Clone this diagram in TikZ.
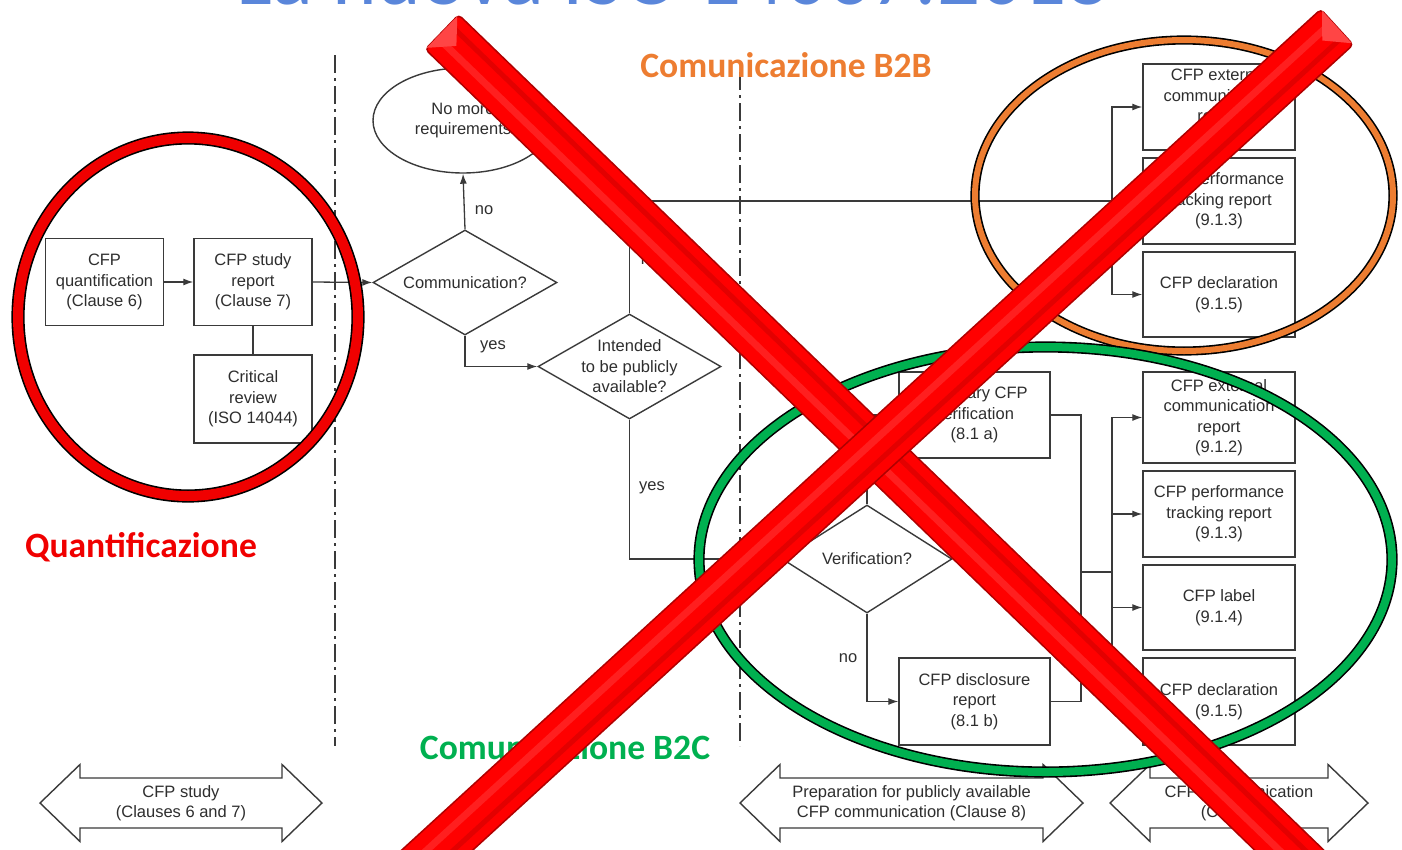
\documentclass[tikz,border=0pt]{standalone}
\usepackage{fontspec}
\setmainfont{Liberation Sans}
\newfontfamily\labelfont{Carlito}
\usetikzlibrary{shapes.geometric,arrows.meta,calc}

\definecolor{linegray}{HTML}{3A3A3A}
\definecolor{textgray}{HTML}{2E2E2E}
\definecolor{quantred}{HTML}{F00000}
\definecolor{btborange}{HTML}{ED7D31}
\definecolor{btcgreen}{HTML}{00B050}
\definecolor{titleblue}{HTML}{5A86DA}
\definecolor{barred}{HTML}{FF0000}
\definecolor{bardark}{HTML}{B00000}
\definecolor{barlight}{HTML}{FF4545}

\newcommand\diagfont{\fontsize{16.5}{20.5}\selectfont}
\newcommand\tagfont{\labelfont\bfseries\fontsize{35.6}{40}\selectfont}

% double-headed phase arrow between two tip abscissae
\newcommand\phasearrow[2]{%
  \draw[phase] (#1,803) -- ({#1+40},764.5) -- ({#1+40},778) -- ({#2-40},778)
    -- ({#2-40},764.5) -- (#2,803) -- ({#2-40},841.5) -- ({#2-40},828)
    -- ({#1+40},828) -- ({#1+40},841.5) -- cycle;}

% thick bar of the cross, from #1 to #2
\newcommand\crossbar[2]{%
  \fill[barred, draw=bardark, line width=1.5pt, rounded corners=4pt]
    ($(#1)!24pt!90:(#2)$) -- ($(#1)!24pt!-90:(#2)$)
    -- ($(#2)!24pt!90:(#1)$) -- ($(#2)!24pt!-90:(#1)$) -- cycle;
  \draw[bardark, opacity=.35, line width=5pt]
    ($(#1)!11pt!90:(#2)$) -- ($(#2)!11pt!-90:(#1)$);
  \draw[white, opacity=.12, line width=7pt]
    ($(#1)!7pt!-90:(#2)$) -- ($(#2)!7pt!90:(#1)$);
  \fill[barlight]
    ($(#1)!22pt!90:(#2)$) -- ($(#1)!22pt!-90:(#2)$) -- ($(#1)!20pt!(#2)$) -- cycle;}

\begin{document}
\begin{tikzpicture}[x=1pt,y=-1pt,
  every node/.style={inner sep=0pt, text=textgray, font=\diagfont, align=center},
  conn/.style={draw=linegray, line width=1.3pt},
  flow/.style={conn, -{Latex[length=10pt,width=7pt]}},
  stepbox/.style={rectangle, draw=linegray, line width=1.4pt,
    minimum width=118pt, minimum height=87pt},
  outbox/.style={stepbox, minimum width=152pt},
  decision/.style={diamond, draw=linegray, line width=1.4pt},
  lane/.style={draw=linegray, line width=2pt,
    dash pattern=on 18pt off 5pt on 3pt off 5pt},
  phase/.style={draw=linegray, line width=1.4pt, fill=white},
  ring/.style={draw=black, line width=1.6pt, double distance=#1},
  tag/.style={font=\tagfont, anchor=base},
]
\useasboundingbox (0,0) rectangle (1402,849);

% slide title, mostly above the visible area
\begin{scope}
  \clip (0,0) rectangle (1402,849);
  \node[anchor=base, font=\labelfont\fontsize{85}{95}\selectfont, text=titleblue]
    (title) at (673,4) {La nuova ISO 14067:2018};
\end{scope}

% swim-lane separators
\draw[lane] (335,55) -- (335,746);
\draw[lane] (740,72) -- (740,746);

% CFP study
\node[stepbox] (quant) at (104.5,282) {CFP\\quantification\\(Clause 6)};
\node[stepbox] (study) at (253,282) {CFP study\\report\\(Clause 7)};
\node[stepbox, minimum height=88pt] (review) at (253,399) {Critical\\review\\(ISO 14044)};

% decisions
\node[ellipse, draw=linegray, line width=1.4pt, minimum width=180pt,
  minimum height=105pt] (noreq) at (463,120.5) {No more\\requirements};
\node[decision, minimum width=184pt, minimum height=105pt] (comm) at (465,282.5) {};
\node (commtxt) at (comm) {Communication?};
\node[decision, minimum width=183pt, minimum height=105pt] (pub) at (629.5,366.5) {};
\node (pubtxt) at (pub) {Intended\\to be publicly\\available?};
\node[decision, minimum width=170pt, minimum height=108pt] (verif) at (867,559) {};
\node (veriftxt) at (verif) {Verification?};

% preparation for publicly available communication
\node[outbox, minimum width=151pt, minimum height=86pt] (vol) at (974.5,415) {Voluntary CFP\\verification\\(8.1 a)};
\node[outbox, minimum width=151pt] (disc) at (974.5,701.5) {CFP disclosure\\report\\(8.1 b)};

% communication outputs
\node[outbox, minimum height=86pt] (e1) at (1219,107) {CFP external\\communication\\report\\(9.1.2)};
\node[outbox, minimum height=86pt] (p1) at (1219,201) {CFP performance\\tracking report\\(9.1.3)};
\node[outbox, minimum height=85pt] (d1) at (1219,294.5) {CFP declaration\\(9.1.5)};
\node[outbox, minimum height=91pt] (e2) at (1219,417.5) {CFP external\\communication\\report\\(9.1.2)};
\node[outbox, minimum height=86pt] (p2) at (1219,514) {CFP performance\\tracking report\\(9.1.3)};
\node[outbox, minimum height=85pt] (l2) at (1219,607.5) {CFP label\\(9.1.4)};
\node[outbox, minimum height=87pt] (d2) at (1219,701.5) {CFP declaration\\(9.1.5)};

% connectors
\draw[flow] (quant.east) -- (study.west);
\draw[conn] (study.south) -- (review.north);
\draw[flow] (study.east) -- (comm.west);
\draw[flow] (comm.north) -- (noreq.south);
\node (lno1) at (484,210) {no};
\draw[flow] (comm.south) |- (pub.west);
\node (lyes1) at (493,347) {yes};

\coordinate (b2b) at (1112,201);
\draw[conn] (pub.north) |- (b2b);
\node (lno2) at (650,260) {no};
\draw[flow] (b2b) |- (e1.west);
\draw[flow] (b2b) |- (d1.west);

\draw[flow] (pub.south) |- (verif.west);
\node (lyes2) at (652,488) {yes};
\draw[flow] (verif.north) |- (vol.west);
\draw[flow] (verif.south) |- (disc.west);
\node (lno3) at (848,658) {no};

\coordinate (merge) at (1081,572);
\coordinate (b2c) at (1112,572);
\draw[conn] (vol.east) -| (merge);
\draw[conn] (disc.east) -| (merge);
\draw[conn] (merge) -- (b2c);
\draw[flow] (b2c) |- (e2.west);
\draw[flow] (b2c) |- (p2.west);
\draw[flow] (b2c) |- (l2.west);
\draw[flow] (b2c) |- (d2.west);

% phase arrows
\phasearrow{40}{322}
\node (ph1) at (181,803) {CFP study\\(Clauses 6 and 7)};
\phasearrow{740}{1083}
\node (ph2) at (911.5,803) {Preparation for publicly available\\CFP communication (Clause 8)};
\phasearrow{1110}{1368}
\node (ph3) at (1239,803) {CFP communication\\(Clause 9)};

% highlight rings
\draw[ring=10pt, double=quantred] (188,317) ellipse [x radius=170pt, y radius=179pt];
\draw[ring=6pt, double=btborange] (1184,195.5) ellipse [x radius=209pt, y radius=155.5pt];
\draw[ring=8pt, double=btcgreen] (1045.5,559.5) ellipse [x radius=346.5pt, y radius=212.5pt];

% ring captions
\node[tag, text=quantred] (qtag) at (141,557) {Quantificazione};
\node[tag, text=btborange] (b2btag) at (786,77) {Comunicazione B2B};
\node[tag, text=btcgreen] (b2ctag) at (565,759) {Comunicazione B2C};

% crossing-out bars
\begin{scope}
  \clip (0,0) rectangle (1402,849);
  \coordinate (xa1) at (442,32);
  \coordinate (xb1) at (1315,875);
  \coordinate (xa2) at (1337,27);
  \coordinate (xb2) at (410,875);
  \crossbar{xa1}{xb1}
  \crossbar{xa2}{xb2}
\end{scope}
\end{tikzpicture}
\end{document}
